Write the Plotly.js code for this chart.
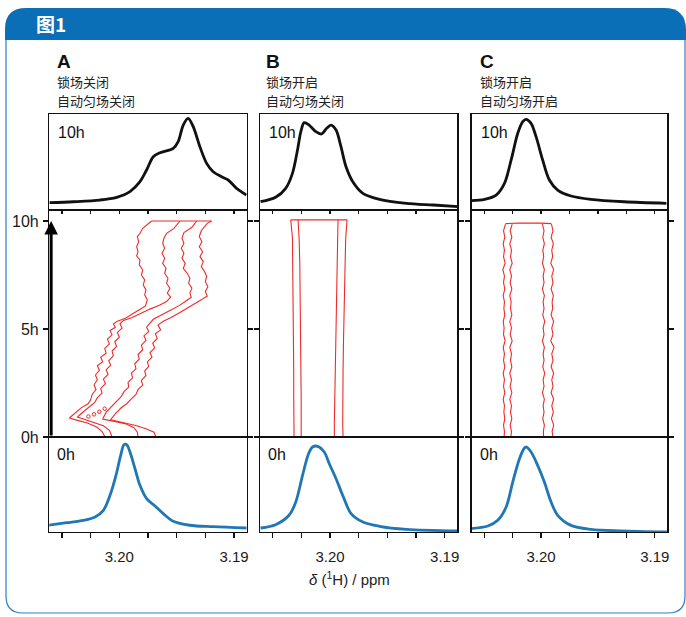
<!DOCTYPE html>
<html><head><meta charset="utf-8">
<script src="https://cdn.plot.ly/plotly-3.0.1.min.js"></script>
<style>html,body{margin:0;padding:0;background:#fff}#chart{width:686px;height:617px}</style>
</head><body><div id="chart"></div>
<script>
// ---------------- DATA ----------------
const panelLetters = ['A','B','C'];
const lockLabels = ['锁场关闭','锁场开启','锁场开启'];
const shimLabels = ['自动匀场关闭','自动匀场关闭','自动匀场开启'];
const topLabel = '10h';
const bottomLabel = '0h';
const xTickVals = [3.2050,3.2025,3.2000,3.1975,3.1950,3.1925,3.1900];
const xTickText = ['','','3.20','','','','3.19'];
const yTickVals = [0,5,10];
const yTickText = ['0h','5h','10h'];

// 10h spectra (top row, black)
const ppmTopA = [3.20609,3.20400,3.20168,3.20023,3.19907,3.19820,3.19762,3.19704,3.19646,3.19530,3.19487,3.19443,3.19400,3.19356,3.19298,3.19239,3.19182,3.19109,3.19051,3.18978,3.18891];
const intTopA = [0.076,0.086,0.104,0.132,0.191,0.295,0.417,0.555,0.597,0.642,0.712,0.885,0.955,0.868,0.660,0.486,0.399,0.347,0.3125,0.226,0.156];
const ppmTopB = [3.20605,3.20474,3.20386,3.20327,3.20283,3.20254,3.20225,3.20182,3.20123,3.20073,3.20029,3.19991,3.19947,3.19904,3.19860,3.19801,3.19713,3.19568,3.19334,3.19099,3.18875];
const intTopB = [0.086,0.132,0.226,0.382,0.625,0.816,0.910,0.885,0.816,0.792,0.851,0.885,0.833,0.659,0.451,0.295,0.174,0.111,0.070,0.052,0.035];
const ppmTopC = [3.20614,3.20497,3.20395,3.20322,3.20263,3.20205,3.20161,3.20132,3.20088,3.20044,3.19986,3.19927,3.19854,3.19737,3.19562,3.19269,3.18898];
const intTopC = [0.097,0.111,0.156,0.278,0.521,0.799,0.920,0.945,0.903,0.764,0.521,0.3125,0.208,0.146,0.111,0.086,0.070];

// 0h spectra (bottom row, blue)
const ppmBotA = [3.20618,3.20458,3.20313,3.20211,3.20139,3.20081,3.20029,3.19988,3.19959,3.19936,3.19907,3.19863,3.19820,3.19762,3.19689,3.19617,3.19530,3.19385,3.19182,3.18891];
const intBotA = [0.071,0.098,0.123,0.158,0.228,0.386,0.597,0.807,0.919,0.919,0.842,0.666,0.491,0.351,0.274,0.193,0.113,0.071,0.056,0.042];
const ppmBotB = [3.20605,3.20474,3.20357,3.20298,3.20239,3.20187,3.20152,3.20108,3.20050,3.20006,3.19947,3.19889,3.19816,3.19713,3.19568,3.19334,3.18875];
const intBotB = [0.042,0.077,0.176,0.316,0.597,0.824,0.895,0.902,0.842,0.719,0.561,0.386,0.193,0.105,0.060,0.028,0.011];
const ppmBotC = [3.20620,3.20468,3.20381,3.20307,3.20249,3.20190,3.20146,3.20132,3.20088,3.20030,3.19971,3.19912,3.19854,3.19737,3.19562,3.19298,3.18894];
const intBotC = [0.035,0.063,0.123,0.263,0.526,0.772,0.884,0.895,0.842,0.702,0.526,0.316,0.176,0.070,0.028,0.011,0.000];

// Contours, panel A (time in h, shift in ppm)
const hA1 = [10.0,9.66,9.43,9.28,9.04,8.81,8.58,8.38,8.20,7.97,7.73,7.50,7.27,7.04,6.81,6.58,6.35,6.07,5.89,5.69,5.50,5.36,5.24,5.08,4.93,4.73,4.53,4.31,4.10,3.88,3.70,3.48,3.30,3.08,2.87,2.65,2.42,2.19,1.97,1.73,1.54,1.36,1.14,0.88,0.77,0.65,0.46,0.25,0.0];
const ppmA1 = [3.19718,3.19796,3.19820,3.19843,3.19831,3.19849,3.19837,3.19849,3.19820,3.19826,3.19796,3.19808,3.19779,3.19791,3.19768,3.19779,3.19756,3.19773,3.19826,3.19883,3.19947,3.20017,3.20052,3.20034,3.20081,3.20063,3.20104,3.20086,3.20127,3.20115,3.20162,3.20145,3.20191,3.20173,3.20208,3.20191,3.20220,3.20203,3.20237,3.20249,3.20272,3.20330,3.20382,3.20435,3.20365,3.20278,3.20197,3.20150,3.20124];
const hA2 = [10.0,9.66,9.43,9.20,8.97,8.74,8.51,8.27,8.04,7.81,7.58,7.35,7.12,6.89,6.66,6.47,6.27,6.10,5.92,5.70,5.52,5.39,5.24,5.04,4.84,4.62,4.41,4.19,3.98,3.76,3.54,3.33,3.11,2.90,2.68,2.47,2.25,2.03,1.82,1.60,1.39,1.17,0.92,0.80,0.68,0.52,0.31,0.0];
const ppmA2 = [3.19471,3.19524,3.19588,3.19611,3.19622,3.19605,3.19628,3.19605,3.19622,3.19593,3.19605,3.19576,3.19588,3.19559,3.19582,3.19553,3.19588,3.19651,3.19733,3.19820,3.19892,3.19965,3.19994,3.19976,3.20017,3.19999,3.20040,3.20023,3.20063,3.20052,3.20092,3.20075,3.20115,3.20098,3.20139,3.20121,3.20162,3.20150,3.20191,3.20214,3.20266,3.20313,3.20365,3.20298,3.20211,3.20139,3.20086,3.20063];
const hA3 = [10.0,9.71,9.46,9.20,8.97,8.74,8.51,8.27,8.04,7.81,7.58,7.35,7.12,6.89,6.66,6.47,6.27,6.07,5.86,5.64,5.45,5.27,5.08,4.88,4.68,4.47,4.25,4.04,3.82,3.61,3.39,3.17,2.96,2.74,2.53,2.31,2.10,1.88,1.66,1.42,1.14,0.83,0.74,0.62,0.43,0.22,0.0];
const ppmA3 = [3.19326,3.19367,3.19437,3.19454,3.19437,3.19460,3.19437,3.19454,3.19425,3.19443,3.19408,3.19385,3.19396,3.19367,3.19385,3.19373,3.19425,3.19483,3.19559,3.19640,3.19704,3.19733,3.19762,3.19744,3.19785,3.19767,3.19808,3.19796,3.19837,3.19826,3.19866,3.19855,3.19895,3.19884,3.19924,3.19918,3.19959,3.19982,3.20023,3.20069,3.20116,3.20145,3.20052,3.19950,3.19872,3.19843,3.19837];
const hA4 = [10.0,9.89,9.55,9.28,9.04,8.81,8.58,8.35,8.12,7.89,7.66,7.43,7.20,6.96,6.73,6.53,6.35,6.16,5.95,5.73,5.52,5.36,5.18,4.96,4.78,4.56,4.35,4.13,3.91,3.70,3.48,3.27,3.05,2.84,2.62,2.40,2.19,1.97,1.76,1.54,1.33,1.08,0.80,0.68,0.52,0.37,0.22,0.0];
const ppmA4 = [3.19196,3.19234,3.19286,3.19303,3.19280,3.19303,3.19274,3.19297,3.19268,3.19286,3.19257,3.19239,3.19251,3.19228,3.19251,3.19234,3.19286,3.19344,3.19413,3.19483,3.19553,3.19617,3.19663,3.19640,3.19686,3.19669,3.19709,3.19692,3.19733,3.19715,3.19756,3.19744,3.19779,3.19768,3.19808,3.19796,3.19837,3.19855,3.19895,3.19936,3.19988,3.20034,3.20075,3.19965,3.19849,3.19762,3.19698,3.19680];
const hATop = [10.0,10.0];
const ppmATop = [3.19718,3.19196];
const hAIsland = [0.95,1.05,1.17,1.31];
const ppmAIsland = [3.20269,3.20220,3.20174,3.20127];

// Contours, panel B
const hB = [10.05,9.2,8.0,6.8,5.5,4.2,3.0,1.8,0.6,0.0];
const ppmB1 = [3.20342,3.20327,3.20325,3.20322,3.20319,3.20319,3.20316,3.20316,3.20313,3.20313];
const ppmB2 = [3.20278,3.20269,3.20263,3.20260,3.20257,3.20254,3.20254,3.20251,3.20251,3.20251];
const ppmB3 = [3.19930,3.19933,3.19939,3.19944,3.19950,3.19956,3.19959,3.19962,3.19962,3.19962];
const ppmB4 = [3.19851,3.19863,3.19868,3.19874,3.19877,3.19883,3.19886,3.19889,3.19889,3.19886];
const hBTop = [10.05,10.06,10.06,10.05];
const ppmBTop = [3.20342,3.20200,3.20000,3.19851];

// Contours, panel C
const hC = [9.85,9.55,9.25,8.95,8.65,8.35,8.05,7.75,7.45,7.15,6.85,6.55,6.25,5.95,5.65,5.35,5.05,4.75,4.45,4.15,3.85,3.55,3.25,2.95,2.65,2.35,2.05,1.75,1.45,1.15,0.85,0.55,0.25,0.0];
const ppmC1 = [3.20313,3.20330,3.20319,3.20333,3.20322,3.20330,3.20316,3.20336,3.20322,3.20330,3.20319,3.20333,3.20322,3.20327,3.20319,3.20333,3.20325,3.20330,3.20316,3.20333,3.20322,3.20330,3.20319,3.20333,3.20322,3.20330,3.20319,3.20333,3.20322,3.20327,3.20319,3.20330,3.20322,3.20325];
const ppmC2 = [3.20254,3.20272,3.20257,3.20275,3.20260,3.20269,3.20254,3.20275,3.20260,3.20272,3.20257,3.20275,3.20263,3.20269,3.20257,3.20275,3.20260,3.20272,3.20254,3.20275,3.20260,3.20269,3.20257,3.20275,3.20260,3.20272,3.20257,3.20275,3.20260,3.20269,3.20257,3.20272,3.20260,3.20266];
const ppmC3 = [3.19988,3.19974,3.19985,3.19971,3.19985,3.19977,3.19988,3.19971,3.19982,3.19974,3.19988,3.19971,3.19982,3.19974,3.19985,3.19968,3.19982,3.19974,3.19988,3.19971,3.19982,3.19974,3.19985,3.19968,3.19982,3.19974,3.19988,3.19971,3.19982,3.19974,3.19985,3.19971,3.19980,3.19977];
const ppmC4 = [3.19909,3.19895,3.19912,3.19892,3.19906,3.19898,3.19915,3.19889,3.19906,3.19895,3.19912,3.19892,3.19903,3.19898,3.19912,3.19889,3.19906,3.19895,3.19915,3.19886,3.19906,3.19895,3.19912,3.19889,3.19906,3.19895,3.19912,3.19889,3.19906,3.19892,3.19909,3.19889,3.19903,3.19895];
const hCTop = [9.88,9.90,9.90,9.88];
const ppmCTop = [3.20313,3.20200,3.20000,3.19909];

// ---------------- LAYOUT HELPERS ----------------
const W = 686, H = 617;
const px = x => x / W, py = y => 1 - y / H;
const P = (x, y) => px(x).toFixed(5) + ',' + py(y).toFixed(5);
const colX = [[49.3,246.7],[260,457.3],[471.7,667.3]];
const rowY = [[114,210],[210,437],[437,532]];
const xRange = [3.2061, 3.1889];
const midYRange = [0, 10.509];
const FONT = 'Liberation Sans, Arial, Helvetica, sans-serif';
const CJK = 'Noto Sans CJK SC, sans-serif';
const BLACK = '#111111', BLUE = '#1f77b4', RED = '#ee2a2a';

const suf = i => (i > 1 ? String(i) : '');
const traces = [];
function addLine(i, xs, ys, color, width, spline) {
  traces.push({type:'scatter', mode:'lines', x:xs, y:ys, xaxis:'x'+suf(i), yaxis:'y'+suf(i),
    line:{color:color, width:width, shape: spline ? 'spline' : 'linear', smoothing: 0.9}, hoverinfo:'skip', cliponaxis:true});
}
// top row
addLine(1, ppmTopA, intTopA, BLACK, 2.8, true);
addLine(2, ppmTopB, intTopB, BLACK, 2.8, true);
addLine(3, ppmTopC, intTopC, BLACK, 2.8, true);
// middle row contours
[[ppmA1,hA1],[ppmA2,hA2],[ppmA3,hA3],[ppmA4,hA4],[ppmATop,hATop]].forEach(d => addLine(4, d[0], d[1], RED, 1.1, false));
traces.push({type:'scatter', mode:'markers', x:ppmAIsland, y:hAIsland, xaxis:'x4', yaxis:'y4',
  marker:{symbol:'circle-open', size:3.5, color:RED, line:{width:1, color:RED}}, hoverinfo:'skip'});
[[ppmB1,hB],[ppmB2,hB],[ppmB3,hB],[ppmB4,hB],[ppmBTop,hBTop]].forEach(d => addLine(5, d[0], d[1], RED, 1.1, false));
[[ppmC1,hC],[ppmC2,hC],[ppmC3,hC],[ppmC4,hC],[ppmCTop,hCTop]].forEach(d => addLine(6, d[0], d[1], RED, 1.1, false));
// bottom row
addLine(7, ppmBotA, intBotA, BLUE, 2.8, true);
addLine(8, ppmBotB, intBotB, BLUE, 2.8, true);
addLine(9, ppmBotC, intBotC, BLUE, 2.8, true);

const layout = {
  width: W, height: H, margin:{l:0,r:0,t:0,b:0},
  paper_bgcolor:'#ffffff', plot_bgcolor:'#ffffff', showlegend:false,
  font:{family:FONT, size:14, color:'#1a1a1a'},
  annotations: [], shapes: []
};

for (let r = 0; r < 3; r++) {
  for (let c = 0; c < 3; c++) {
    const i = r * 3 + c + 1;
    const xa = {
      domain:[px(colX[c][0]), px(colX[c][1])], range:xRange, anchor:'y'+suf(i),
      showline:true, mirror:true, linecolor:BLACK, linewidth:1.4,
      showgrid:false, zeroline:false, tickmode:'array', tickvals:xTickVals, ticktext:xTickText,
      tickcolor:BLACK, tickwidth:1.2
    };
    const ya = {
      domain:[py(rowY[r][1]), py(rowY[r][0])], anchor:'x'+suf(i),
      showline:true, mirror:true, linecolor:BLACK, linewidth:1.4,
      showgrid:false, zeroline:false, tickcolor:BLACK, tickwidth:1.2
    };
    if (r === 0) {
      xa.ticks = ''; xa.showticklabels = false;
      ya.range = [0, 1]; ya.ticks = ''; ya.showticklabels = false;
    } else if (r === 1) {
      xa.side = 'top'; xa.ticks = 'inside'; xa.ticklen = 4; xa.showticklabels = false;
      ya.range = midYRange; ya.tickmode = 'array'; ya.tickvals = yTickVals; ya.ticktext = yTickText;
      ya.ticks = 'outside'; ya.ticklen = 5; ya.mirror = 'ticks';
      ya.showticklabels = (c === 0); ya.tickfont = {family:FONT, size:16, color:'#1a1a1a'};
      ya.ticklabelstandoff = 1;
    } else {
      xa.ticks = 'outside'; xa.ticklen = 5; xa.showticklabels = true;
      xa.tickfont = {family:FONT, size:15, color:'#1a1a1a'};
      xa.ticklabelstandoff = 6;
      ya.range = [0, 1]; ya.ticks = ''; ya.showticklabels = false;
    }
    layout['xaxis'+suf(i)] = xa;
    layout['yaxis'+suf(i)] = ya;
  }
}

// Frame: header bar and rounded border
layout.shapes.push({type:'path', xref:'paper', yref:'paper', layer:'below',
  path:`M ${P(6,40)} L ${P(6,596)} Q ${P(6,613)} ${P(23,613)} L ${P(668,613)} Q ${P(685,613)} ${P(685,596)} L ${P(685,40)}`,
  line:{color:'#2a80c4', width:1.2}});
layout.shapes.push({type:'path', xref:'paper', yref:'paper', layer:'below',
  path:`M ${P(5,40)} L ${P(5,29)} Q ${P(5,8)} ${P(26,8)} L ${P(664,8)} Q ${P(686,8)} ${P(686,30)} L ${P(686,40)} Z`,
  fillcolor:'#0b6fb8', line:{width:0}});

function ann(x, y, text, opts) {
  layout.annotations.push(Object.assign({xref:'paper', yref:'paper', x:px(x), y:py(y), text:text,
    showarrow:false, xanchor:'left', yanchor:'middle', font:{family:FONT, size:14, color:'#1a1a1a'}}, opts || {}));
}
ann(34, 24, '<b>图1</b>', {font:{family:CJK, size:19, color:'#ffffff'}});
const letterX = [55, 264, 478];
for (let c = 0; c < 3; c++) {
  ann(letterX[c], 61, '<b>' + panelLetters[c] + '</b>', {font:{family:FONT, size:19, color:'#111'}});
  ann(letterX[c], 82, lockLabels[c], {font:{family:CJK, size:13, color:'#222'}});
  ann(letterX[c], 101, shimLabels[c], {font:{family:CJK, size:13, color:'#222'}});
  ann(colX[c][0] + 7, 132, topLabel, {font:{family:FONT, size:16, color:'#111'}});
  ann(colX[c][0] + 6, 454, bottomLabel, {font:{family:FONT, size:16, color:'#111'}});
}
ann(349, 578, '<i>δ</i> (<sup>1</sup>H) / ppm', {xanchor:'center', font:{family:FONT, size:15, color:'#222'}});

// Time arrow in panel A
layout.annotations.push({xref:'x4', yref:'y4', axref:'x4', ayref:'y4', x:3.20594, y:10, ax:3.20594, ay:0,
  text:'', showarrow:true, arrowhead:2, arrowsize:0.9, arrowwidth:3, arrowcolor:'#000'});

Plotly.newPlot('chart', traces, layout, {staticPlot:true, displayModeBar:false});
</script>
</body></html>
